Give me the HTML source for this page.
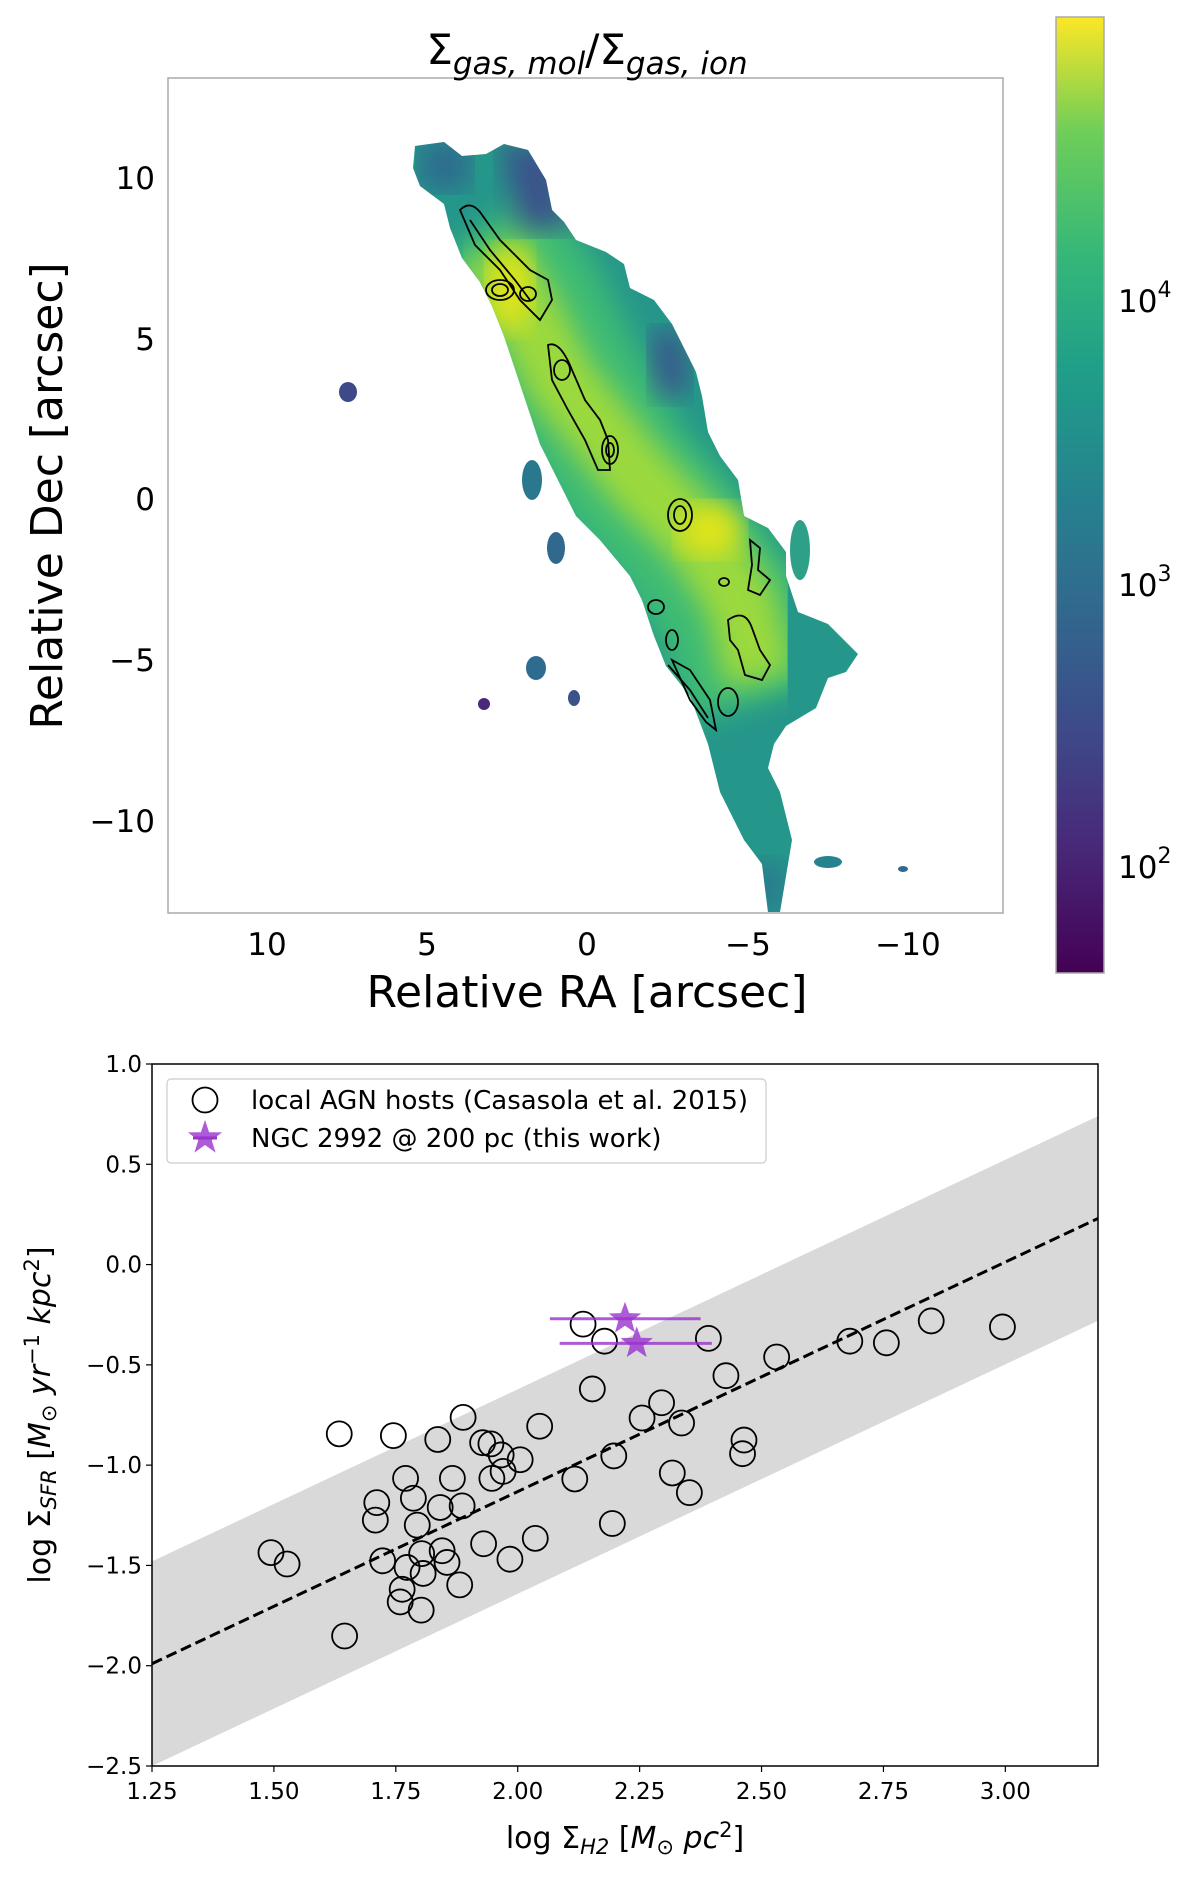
<!DOCTYPE html>
<html><head><meta charset="utf-8"><style>
body{margin:0;background:#fff}
svg{display:block;font-family:"DejaVu Sans","Liberation Sans",sans-serif}
</style></head><body>
<svg id="fig" width="1200" height="1903" viewBox="0 0 1200 1903" xmlns="http://www.w3.org/2000/svg">
<defs>
<linearGradient id="vir" x1="0" y1="1" x2="0" y2="0">
<stop offset="0" stop-color="#440154"/><stop offset="0.13" stop-color="#482878"/><stop offset="0.25" stop-color="#3e4989"/><stop offset="0.38" stop-color="#31688e"/><stop offset="0.5" stop-color="#26828e"/><stop offset="0.63" stop-color="#1f9e89"/><stop offset="0.75" stop-color="#35b779"/><stop offset="0.88" stop-color="#6ece58"/><stop offset="1" stop-color="#fde725"/>
</linearGradient>
<filter id="bl"><feGaussianBlur stdDeviation="14"/></filter>
<clipPath id="bodyclip"><polygon points="415,146 444,142 462,156 486,154 504,144 528,150 546,180 552,210 564,222 576,240 606,252 624,264 630,288 654,300 672,324 684,348 696,372 702,396 708,432 720,456 738,480 744,516 768,528 786,552 786,576 798,612 828,624 858,654 846,672 828,678 816,708 786,726 774,744 768,768 780,792 792,840 786,876 780,912 768,912 762,864 744,840 720,792 708,744 690,696 666,666 654,636 642,600 630,576 600,540 576,516 558,480 540,444 528,408 516,372 504,336 492,306 480,282 462,258 450,228 444,204 420,186 413,168"/></clipPath>
</defs>

<g>
<rect x="168" y="78" width="835" height="835" fill="#fff" stroke="#aaa" stroke-width="1.5"/>
<g>
<polygon points="415,146 444,142 462,156 486,154 504,144 528,150 546,180 552,210 564,222 576,240 606,252 624,264 630,288 654,300 672,324 684,348 696,372 702,396 708,432 720,456 738,480 744,516 768,528 786,552 786,576 798,612 828,624 858,654 846,672 828,678 816,708 786,726 774,744 768,768 780,792 792,840 786,876 780,912 768,912 762,864 744,840 720,792 708,744 690,696 666,666 654,636 642,600 630,576 600,540 576,516 558,480 540,444 528,408 516,372 504,336 492,306 480,282 462,258 450,228 444,204 420,186 413,168" fill="#25968a"/>
<g clip-path="url(#bodyclip)">
<polyline points="480,230 530,300 570,380 620,470 680,540 730,610 760,700" fill="none" stroke="#3dbb74" stroke-width="150" filter="url(#bl)"/>
<polyline points="490,250 530,320 560,380 640,480 700,540 740,600 760,680" fill="none" stroke="#9bd93c" stroke-width="70" filter="url(#bl)"/>
<ellipse cx="510" cy="290" rx="22" ry="42" fill="#e2e418" filter="url(#bl)"/>
<ellipse cx="710" cy="530" rx="32" ry="26" fill="#e2e418" filter="url(#bl)"/>
<path d="M420,140 L470,140 L470,190 L420,190 Z" fill="#2f6b8e" filter="url(#bl)"/>
<path d="M500,140 L560,150 L570,230 L520,230 Z" fill="#3b528b" filter="url(#bl)"/>
<path d="M650,330 L680,330 L690,390 L660,400 Z" fill="#3b528b" filter="url(#bl)"/>
<path d="M740,860 L790,870 L780,912 L750,912 Z" fill="#2a788e" filter="url(#bl)"/>
</g>
<ellipse cx="348" cy="392" rx="9" ry="10" fill="#3e4989"/>
<ellipse cx="532" cy="480" rx="10" ry="20" fill="#2a788e"/>
<ellipse cx="556" cy="548" rx="9" ry="16" fill="#31688e"/>
<ellipse cx="536" cy="668" rx="10" ry="12" fill="#2f6b8e"/>
<ellipse cx="574" cy="698" rx="6" ry="8" fill="#3b528b"/>
<ellipse cx="484" cy="704" rx="6" ry="6" fill="#482878"/>
<ellipse cx="800" cy="550" rx="10" ry="30" fill="#2ea087"/>
<ellipse cx="828" cy="862" rx="14" ry="6" fill="#26828e"/>
<ellipse cx="903" cy="869" rx="5" ry="3" fill="#31688e"/>
</g>
<g fill="none" stroke="#000" stroke-width="1.8">
<path d="M460,210 Q470,200 480,212 L500,240 L530,270 L548,280 L552,300 L540,320 L520,300 L500,270 L475,245 Z"/>
<path d="M470,220 L490,250 L515,280 L530,300"/>
<ellipse cx="500" cy="290" rx="14" ry="10"/><ellipse cx="500" cy="290" rx="8" ry="6"/>
<ellipse cx="528" cy="294" rx="8" ry="7"/>
<path d="M548,345 Q560,340 572,370 L585,400 L600,420 L608,440 L610,470 L598,470 L585,440 L568,410 L552,380 Z"/>
<ellipse cx="562" cy="370" rx="8" ry="10"/>
<ellipse cx="610" cy="450" rx="8" ry="14"/><ellipse cx="610" cy="450" rx="4" ry="7"/>
<ellipse cx="680" cy="515" rx="12" ry="16"/><ellipse cx="680" cy="515" rx="6" ry="9"/>
<path d="M750,540 L760,548 L758,570 L770,580 L760,595 L748,590 L752,565 Z"/>
<ellipse cx="724" cy="582" rx="5" ry="4"/>
<ellipse cx="656" cy="607" rx="8" ry="7"/><ellipse cx="672" cy="640" rx="6" ry="10"/>
<path d="M728,620 Q745,608 752,628 L760,650 L770,665 L762,680 L745,675 L738,650 L730,640 Z"/>
<path d="M672,660 L690,670 L710,700 L716,730 L706,722 L690,700 Z"/><path d="M668,665 L690,690 L708,718"/>
<ellipse cx="728" cy="702" rx="10" ry="14"/>
</g>
<g font-size="31" text-anchor="middle" fill="#000">
<text x="267" y="955">10</text><text x="427" y="955">5</text><text x="587" y="955">0</text><text x="748" y="955">−5</text><text x="908" y="955">−10</text>
</g>
<g font-size="31" text-anchor="end" fill="#000">
<text x="155" y="189">10</text><text x="155" y="350">5</text><text x="155" y="510">0</text><text x="155" y="671">−5</text><text x="155" y="832">−10</text>
</g>
<text x="587" y="1007" font-size="44" text-anchor="middle">Relative RA [arcsec]</text>
<text transform="translate(62,496) rotate(-90)" font-size="44" text-anchor="middle">Relative Dec [arcsec]</text>
<text x="587" y="64" font-size="42" text-anchor="middle">Σ<tspan font-size="31" font-style="italic" dy="10">gas, mol</tspan><tspan dy="-10">/Σ</tspan><tspan font-size="31" font-style="italic" dy="10">gas, ion</tspan></text>
<rect x="1056" y="17" width="48" height="956" fill="url(#vir)" stroke="#aaa" stroke-width="1.5"/>
<g font-size="31" fill="#000">
<text x="1118" y="312">10<tspan font-size="22" dy="-15">4</tspan></text>
<text x="1118" y="596">10<tspan font-size="22" dy="-15">3</tspan></text>
<text x="1118" y="878">10<tspan font-size="22" dy="-15">2</tspan></text>
</g>
</g>

<g id="scatter"></g>
</svg>
<script>
const xTicks=[1.25,1.50,1.75,2.00,2.25,2.50,2.75,3.00];
const yTicks=[1.0,0.5,0.0,-0.5,-1.0,-1.5,-2.0,-2.5];
const agnX=[2.134,2.178,2.391,1.634,1.745,1.888,1.836,2.045,2.153,2.427,2.531,2.681,2.756,2.848,2.994,2.295,2.255,2.336,2.197,2.117,2.317,2.352,2.194,2.036,1.930,1.984,2.464,2.461,1.770,1.866,1.786,1.841,1.886,1.711,1.708,1.794,1.928,1.945,1.966,2.005,1.970,1.947,1.494,1.527,1.723,1.773,1.803,1.845,1.855,1.806,1.881,1.763,1.759,1.802,1.645];
const agnY=[-0.297,-0.382,-0.368,-0.844,-0.853,-0.762,-0.872,-0.806,-0.620,-0.554,-0.461,-0.382,-0.390,-0.281,-0.311,-0.689,-0.765,-0.790,-0.954,-1.069,-1.039,-1.137,-1.291,-1.365,-1.392,-1.469,-0.875,-0.943,-1.066,-1.066,-1.165,-1.211,-1.203,-1.187,-1.274,-1.299,-0.888,-0.894,-0.949,-0.973,-1.031,-1.066,-1.436,-1.493,-1.477,-1.510,-1.441,-1.427,-1.485,-1.540,-1.597,-1.619,-1.682,-1.723,-1.852];
const ngcX=[2.220,2.244];
const ngcY=[-0.270,-0.393];
const ngcXlo=[2.066,2.086];
const ngcXhi=[2.375,2.398];
const fitX=[1.25,3.19];
const fitY=[-1.99,0.23];
const bandHalf=[0.51];

const X0=152,X1=1098,Y0=1064,Y1=1766,xmin=1.25,xmax=3.19,ymin=-2.5,ymax=1.0;
const sx=v=>X0+(v-xmin)/(xmax-xmin)*(X1-X0);
const sy=v=>Y1-(v-ymin)/(ymax-ymin)*(Y1-Y0);
const NS="http://www.w3.org/2000/svg";
const g=document.getElementById('scatter');
function mk(t,a,p){const e=document.createElementNS(NS,t);for(const k in a)e.setAttribute(k,a[k]);(p||g).appendChild(e);return e;}
const cp=mk('clipPath',{id:'axclip'});mk('rect',{x:X0,y:Y0,width:X1-X0,height:Y1-Y0},cp);
const pl=mk('g',{'clip-path':'url(#axclip)'});


const slope=(fitY[1]-fitY[0])/(fitX[1]-fitX[0]);
const fy=x=>fitY[0]+slope*(x-fitX[0]);
const band=mk('polygon',{points:[[xmin,fy(xmin)+bandHalf[0]],[xmax,fy(xmax)+bandHalf[0]],[xmax,fy(xmax)-bandHalf[0]],[xmin,fy(xmin)-bandHalf[0]]].map(p=>sx(p[0])+','+sy(p[1])).join(' '),fill:'#d9d9d9'},pl);


const fl=mk('line',{x1:sx(xmin),y1:sy(fy(xmin)),x2:sx(xmax),y2:sy(fy(xmax)),stroke:'#000','stroke-width':3,'stroke-dasharray':'11,5'},pl);


agnX.forEach((x,i)=>{const c=mk('circle',{cx:sx(x),cy:sy(agnY[i]),r:12.5,fill:'none',stroke:'#000','stroke-width':1.8},pl);

});
function star(cx,cy,R,r){let p=[];for(let k=0;k<10;k++){const a=-Math.PI/2+k*Math.PI/5,rr=k%2?r:R;p.push((cx+rr*Math.cos(a)).toFixed(1)+','+(cy+rr*Math.sin(a)).toFixed(1));}return p.join(' ');}
ngcX.forEach((x,i)=>{const e=mk('line',{x1:sx(ngcXlo[i]),x2:sx(ngcXhi[i]),y1:sy(ngcY[i]),y2:sy(ngcY[i]),stroke:'#9a32cd','stroke-width':3,opacity:0.8},pl);


const s=mk('polygon',{points:star(sx(x),sy(ngcY[i]),17,7),fill:'#9a32cd',opacity:0.8},pl);

});
const fr=mk('rect',{x:X0,y:Y0,width:X1-X0,height:Y1-Y0,fill:'none',stroke:'#000','stroke-width':1.5});


xTicks.forEach(v=>{mk('line',{x1:sx(v),x2:sx(v),y1:Y1,y2:Y1+6,stroke:'#000','stroke-width':1.2});
const t=mk('text',{x:sx(v),y:Y1+33,'font-size':23,'text-anchor':'middle'});t.textContent=v.toFixed(2);

});
yTicks.forEach(v=>{mk('line',{x1:X0-6,x2:X0,y1:sy(v),y2:sy(v),stroke:'#000','stroke-width':1.2});
const t=mk('text',{x:X0-10,y:sy(v)+8,'font-size':23,'text-anchor':'end'});t.textContent=(v<0?'−':'')+Math.abs(v).toFixed(1);

});
const xl=mk('text',{x:(X0+X1)/2,y:1848,'font-size':30,'text-anchor':'middle'});
xl.innerHTML='log Σ<tspan font-style="italic" font-size="21" dy="6">H2</tspan><tspan dy="-6"> [</tspan><tspan font-style="italic">M</tspan><tspan font-size="21" dy="6">⊙</tspan><tspan font-style="italic" dy="-6"> pc</tspan><tspan font-size="21" dy="-11">2</tspan><tspan dy="11">]</tspan>';


const yl=mk('text',{transform:'translate(50,1415) rotate(-90)','font-size':30,'text-anchor':'middle'});
yl.innerHTML='log Σ<tspan font-style="italic" font-size="21" dy="6">SFR</tspan><tspan dy="-6"> [</tspan><tspan font-style="italic">M</tspan><tspan font-size="21" dy="6">⊙</tspan><tspan font-style="italic" dy="-6"> yr</tspan><tspan font-size="21" dy="-11">−1</tspan><tspan font-style="italic" dy="11"> kpc</tspan><tspan font-size="21" dy="-11">2</tspan><tspan dy="11">]</tspan>';


const lg=mk('g',{});


mk('rect',{x:167,y:1079,width:599,height:84,rx:4,fill:'#fff','fill-opacity':0.85,stroke:'#ccc','stroke-width':1.2},lg);
const l1=mk('circle',{cx:205,cy:1100,r:12.5,fill:'none',stroke:'#000','stroke-width':1.8},lg);


mk('polygon',{points:star(205,1138,18,7),fill:'#9a32cd',opacity:0.8},lg);
mk('line',{x1:193,x2:217,y1:1138,y2:1138,stroke:'#9a32cd','stroke-width':3},lg);
const t1=mk('text',{x:251,y:1109,'font-size':26},lg);t1.textContent='local AGN hosts (Casasola et al. 2015)';


const t2=mk('text',{x:251,y:1147,'font-size':26},lg);t2.textContent='NGC 2992 @ 200 pc (this work)';


</script>
</body></html>
